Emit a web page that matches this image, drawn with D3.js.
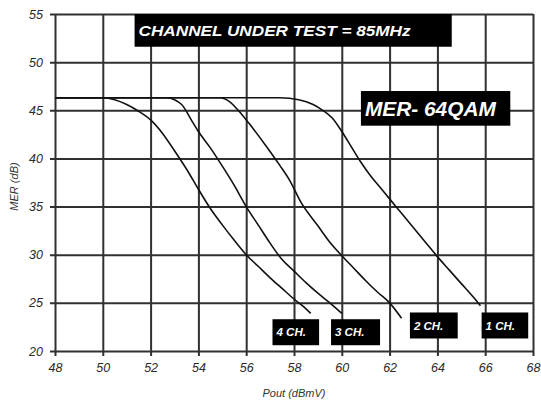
<!DOCTYPE html>
<html>
<head>
<meta charset="utf-8">
<script src="https://cdn.jsdelivr.net/npm/d3@7"></script>
<style>
  body { margin: 0; background: #fff; }
  svg { display: block; font-family: "Liberation Sans", Arial, sans-serif; }
  .tick text { font-style: italic; fill: #2a2a2a; }
</style>
</head>
<body>
<svg id="chart" width="541" height="402"></svg>
<script>
// MER vs output power, one curve per number of channels loaded
const xTicks = [48, 50, 52, 54, 56, 58, 60, 62, 64, 66, 68];
const yTicks = [20, 25, 30, 35, 40, 45, 50, 55];

const pout4 = [48, 49, 50, 50.5, 51, 51.5, 52, 52.5, 53, 53.5, 54, 54.5, 55, 55.5, 56, 56.5, 57, 57.5, 58, 58.4, 58.7];
const mer4  = [46.3, 46.3, 46.3, 46.1, 45.6, 44.9, 44.0, 42.6, 40.8, 38.9, 36.8, 34.8, 33.1, 31.5, 30.0, 28.8, 27.6, 26.5, 25.4, 24.6, 23.9];

const pout3 = [48, 50, 52, 52.7, 53, 53.3, 53.75, 54, 54.5, 55, 55.5, 56, 56.5, 57, 57.5, 58, 58.5, 59, 59.5, 60];
const mer3  = [46.3, 46.3, 46.3, 46.3, 46.1, 45.6, 43.8, 42.8, 41.1, 39.2, 37.2, 35.0, 33.1, 31.2, 29.5, 28.3, 27.1, 26.0, 25.0, 23.9];

const pout2 = [48, 50, 52, 54, 54.9, 55.3, 55.7, 56.1, 56.8, 57.4, 57.8, 58.3, 59, 59.5, 60, 60.5, 61, 61.5, 62, 62.5];
const mer2  = [46.3, 46.3, 46.3, 46.3, 46.3, 45.9, 44.9, 43.7, 41.4, 39.3, 37.8, 35.4, 33.0, 31.3, 29.9, 28.6, 27.3, 26.1, 25.0, 23.4];

const pout1 = [48, 50, 52, 54, 56, 57.4, 58.2, 58.8, 59.2, 59.6, 60, 60.4, 60.8, 61.2, 61.6, 62, 62.5, 63, 63.5, 64, 64.5, 65, 65.5, 65.8];
const mer1  = [46.3, 46.3, 46.3, 46.3, 46.3, 46.3, 46.1, 45.6, 45.0, 44.2, 42.8, 41.2, 39.6, 38.2, 37.0, 35.8, 34.3, 32.8, 31.3, 29.8, 28.4, 27.0, 25.6, 24.7];

const seriesNames = ["4 CH.", "3 CH.", "2 CH.", "1 CH."];
const seriesPout = [pout4, pout3, pout2, pout1];
const seriesMer = [mer4, mer3, mer2, mer1];

const margin = {top: 14, right: 8, bottom: 51, left: 55};
const svg = d3.select("#chart");
const width = +svg.attr("width") - margin.left - margin.right;
const height = +svg.attr("height") - margin.top - margin.bottom;

const g = svg.append("g").attr("transform", `translate(${margin.left},${margin.top})`);

const x = d3.scaleLinear().domain([48, 68]).range([0, width]);
const y = d3.scaleLinear().domain([20, 55]).range([height, 0]);

const gridColor = "#303030";

// x axis + vertical grid
const xAxis = g.append("g")
  .attr("transform", `translate(0,${height})`)
  .call(d3.axisBottom(x).tickValues(xTicks).tickSizeInner(-height).tickSizeOuter(0).tickPadding(12));
xAxis.select(".domain").remove();
xAxis.selectAll(".tick line").attr("y1", 5).attr("stroke", gridColor).attr("stroke-width", 2);
xAxis.selectAll(".tick text").attr("font-size", 12.5);

// y axis + horizontal grid
const yAxis = g.append("g")
  .call(d3.axisLeft(y).tickValues(yTicks).tickSizeInner(-width).tickSizeOuter(0).tickPadding(12));
yAxis.select(".domain").remove();
yAxis.selectAll(".tick line").attr("x1", -5).attr("stroke", gridColor).attr("stroke-width", 2);
yAxis.selectAll(".tick text").attr("font-size", 12.5);

// axis titles
svg.append("text")
  .attr("x", margin.left + width / 2)
  .attr("y", 397)
  .attr("text-anchor", "middle")
  .attr("font-size", 11)
  .attr("font-style", "italic")
  .attr("fill", "#333")
  .text("Pout (dBmV)");

svg.append("text")
  .attr("transform", `translate(18,${margin.top + height / 2 + 4}) rotate(-90)`)
  .attr("text-anchor", "middle")
  .attr("font-size", 11)
  .attr("font-style", "italic")
  .attr("fill", "#333")
  .text("MER (dB)");

// curves
const line = d3.line()
  .x(d => x(d[0]))
  .y(d => y(d[1]))
  .curve(d3.curveMonotoneX);

seriesPout.forEach((px, i) => {
  const pts = px.map((v, j) => [v, seriesMer[i][j]]);
  g.append("path")
    .datum(pts)
    .attr("fill", "none")
    .attr("stroke", "#111")
    .attr("stroke-width", 1.6)
    .attr("d", line);
});

// black annotation boxes with white bold italic text
function tag(x0, x1, y0, y1, label, size, len) {
  const box = g.append("g");
  box.append("rect")
    .attr("x", x(x0)).attr("y", y(y0))
    .attr("width", x(x1) - x(x0)).attr("height", y(y1) - y(y0))
    .attr("fill", "#000");
  const t = box.append("text")
    .attr("x", x(x0) + 4)
    .attr("y", (y(y0) + y(y1)) / 2 + size * 0.36)
    .attr("font-size", size)
    .attr("font-weight", "bold")
    .attr("font-style", "italic")
    .attr("fill", "#fff")
    .text(label);
  if (len) t.attr("textLength", len).attr("lengthAdjust", "spacingAndGlyphs");
  return t;
}

tag(51.33, 64.6, 55, 51.6, "CHANNEL UNDER TEST = 85MHz", 15.5, 272);
tag(60.8, 67.05, 47, 43.4, "MER- 64QAM", 21, 131);

tag(57.1, 59.05, 23.3, 20.6, seriesNames[0], 11.5);
tag(59.55, 61.6, 23.3, 20.6, seriesNames[1], 11.5);
tag(62.85, 64.85, 24.0, 21.3, seriesNames[2], 11.5);
tag(65.85, 67.8, 24.0, 21.3, seriesNames[3], 11.5);
</script>
</body>
</html>
